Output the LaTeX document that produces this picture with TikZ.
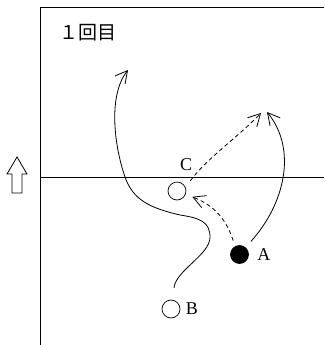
\documentclass[tikz,border=0pt]{standalone}
\usepackage{fontspec}
\setmainfont{Liberation Serif}
\newfontfamily\jpfont{Noto Sans CJK JP}
\usetikzlibrary{arrows.meta,positioning}
\begin{document}
\begin{tikzpicture}[x=1pt,y=-1pt,line width=0.8pt,
  player/.style={circle,draw,line width=0.7pt,minimum size=18pt,inner sep=0pt},
  tag/.style={inner sep=0pt,font=\fontsize{18}{18}\selectfont},
  run/.style={-{Straight Barb[length=12pt,width=13pt]}},
  pass/.style={run,dash pattern=on 4pt off 3pt}]
  \useasboundingbox (0,0) rectangle (324,345);
  % court lines
  \draw (324,7) -- (40,7) -- (40,345);
  \draw (40,177) -- (324,177);
  % direction of attack
  \draw (17,157) -- (27,174) -- (22,174) -- (22,193) -- (12,193) -- (12,174) -- (7,174) -- cycle;
  \node (title) at (88,33) {\jpfont\fontsize{19}{19}\selectfont １回目};
  % players
  \node[player] (C) at (177,191) {};
  \node[player,fill=black] (A) at (239.5,254.5) {};
  \node[player] (B) at (171,309) {};
  \node[tag,right=8pt of A] (labA) {A};
  \node[tag,right=5pt of B] (labB) {B};
  \node[tag,above=11pt of C,xshift=9pt] (labC) {C};
  \coordinate (tipB) at (128,70);
  \coordinate (tipA) at (267,112);
  \coordinate (tipC) at (261,113);
  % movements
  \draw[run,shorten <=12pt] (B.80) .. controls (176,270) and (210,255) .. (210,237)
    .. controls (210,222) and (200,218) .. (180,215)
    .. controls (150,208) and (133,200) .. (125,177)
    .. controls (114,145) and (108,95) .. (tipB);
  \draw[run,shorten <=8pt] (A.50) .. controls (284,205) and (298,150) .. (tipA);
  \draw[pass,shorten <=6pt,shorten >=7pt] (A.119) .. controls (225,215) and (210,204) .. (C.-20);
  \draw[pass,shorten <=8pt] (C.22) .. controls (205,160) and (238,137) .. (tipC);
\end{tikzpicture}
\end{document}
